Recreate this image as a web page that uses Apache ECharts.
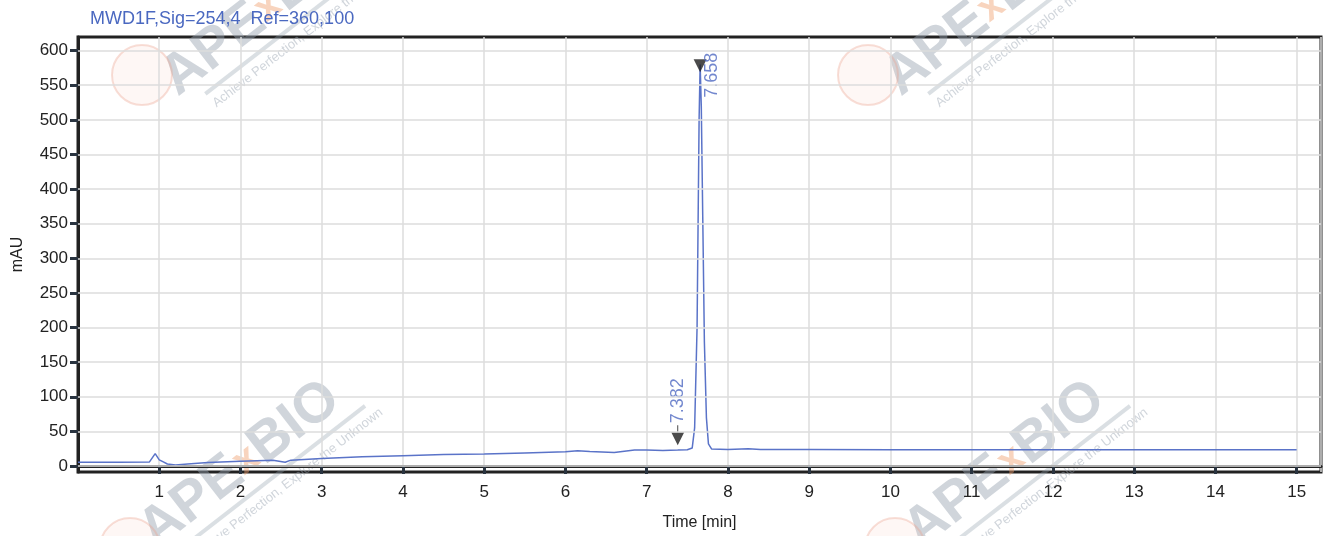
<!DOCTYPE html>
<html>
<head>
<meta charset="utf-8">
<script src="https://cdn.jsdelivr.net/npm/echarts@6/dist/echarts.min.js"></script>
<style>
html,body{margin:0;padding:0;background:#fff;}
#c{width:1330px;height:536px;}
</style>
</head>
<body>
<div id="c"></div>
<script>
// ---- data ----
const times = [0, 0.5, 0.88, 0.95, 1.0, 1.05, 1.1, 1.2, 1.35, 1.6, 2.0, 2.4, 2.55, 2.62, 3.0, 3.5, 4.0, 4.5, 5.0, 5.5, 6.0, 6.15, 6.3, 6.6, 6.85, 7.0, 7.2, 7.382, 7.5, 7.56, 7.59, 7.62, 7.645, 7.658, 7.672, 7.69, 7.71, 7.735, 7.76, 7.8, 8.0, 8.25, 8.4, 9, 10, 11, 12, 13, 14, 15];
const mAU   = [5.5, 5.5, 6, 18, 9, 6, 3, 1.5, 3, 5, 7, 8.5, 5.5, 8.5, 11, 13.5, 15, 16.5, 17.5, 19, 20.5, 22, 21, 19.5, 23, 23, 22.5, 23, 23.5, 26, 55, 200, 500, 580, 520, 360, 180, 70, 32, 24.5, 24, 25, 24, 24, 23.5, 23.5, 23.5, 23.5, 23.5, 23.5];
const peakTimes  = [7.382, 7.658];
const peakMarks  = [44.6, 578];
const peakLabels = ['7.382', '7.658'];
const yTicks = [0, 50, 100, 150, 200, 250, 300, 350, 400, 450, 500, 550, 600];
const titleText = 'MWD1F,Sig=254,4  Ref=360,100';

const FONT = 'Liberation Sans, Arial, sans-serif';
const lineColor = '#5a73c8';
const chart = echarts.init(document.getElementById('c'));

function wm(cx, cy) {
  return {
    type: 'group', x: cx, y: cy, rotation: 0.66, silent: true, z: 10,
    children: [
      {type: 'text', style: {
        text: '{a|APE}{b|x}{a|BIO}', x: 0, y: 0, align: 'center', verticalAlign: 'middle',
        rich: {
          a: {font: 'bold 56px ' + FONT, fill: 'rgba(150,162,175,0.45)'},
          b: {font: 'bold 40px ' + FONT, fill: 'rgba(240,160,110,0.45)'}
        }}},
      {type: 'line', shape: {x1: -95, y1: 30, x2: 135, y2: 30},
        style: {stroke: 'rgba(150,162,175,0.35)', lineWidth: 4}},
      {type: 'text', style: {text: 'Achieve Perfection, Explore the Unknown', x: 25, y: 44, align: 'center', verticalAlign: 'middle',
        font: '13px ' + FONT, fill: 'rgba(150,162,175,0.45)'}}
    ]
  };
}
function logo(cx, cy) {
  const kids = [{type: 'circle', shape: {cx: cx, cy: cy, r: 30},
    style: {fill: 'rgba(245,190,170,0.12)', stroke: 'rgba(235,160,140,0.35)', lineWidth: 2}}];
  return {type: 'group', silent: true, z: 0, children: kids};
}

const option = {
  animation: false,
  backgroundColor: '#fff',
  textStyle: {fontFamily: FONT},
  title: {
    text: titleText, left: 85, top: 5,
    textStyle: {fontFamily: FONT, fontSize: 18, fontWeight: 'normal', color: '#4a68c0'}
  },
  graphic: [
    wm(262, 12), wm(985, 12), wm(240, 465), wm(1005, 465),
    logo(142, 75), logo(868, 75), logo(130, 548), logo(895, 548)
  ],
  grid: {left: 78, right: 9, top: 37, bottom: 63, show: true, borderColor: '#222', borderWidth: 3, backgroundColor: 'transparent'},
  xAxis: {
    type: 'value', min: 0, max: 15.3, interval: 1,
    name: 'Time [min]', nameLocation: 'middle', nameGap: 43,
    nameTextStyle: {fontFamily: FONT, fontSize: 16, color: '#222'},
    axisLine: {show: true, lineStyle: {color: '#222', width: 3}},
    axisTick: {show: true, length: 8, lineStyle: {color: '#2a3440', width: 3}},
    axisLabel: {fontFamily: FONT, fontSize: 17, color: '#222', margin: 12, showMinLabel: false, showMaxLabel: false,
      formatter: v => (Math.abs(v - Math.round(v)) < 1e-6 && v > 0 && v <= 15) ? String(Math.round(v)) : ''},
    splitLine: {show: true, lineStyle: {color: '#dcdcdc', width: 1.5}}
  },
  yAxis: {
    type: 'value', min: -8.6, max: 619.6,
    name: 'mAU', nameLocation: 'middle', nameGap: 52, nameRotate: 90,
    nameTextStyle: {fontFamily: FONT, fontSize: 16, color: '#222'},
    axisLine: {show: true, lineStyle: {color: '#222', width: 3}},
    axisTick: {show: true, length: 8, lineStyle: {color: '#2a3440', width: 3}, customValues: yTicks},
    axisLabel: {fontFamily: FONT, fontSize: 17, color: '#222', margin: 10, customValues: yTicks},
    splitLine: {show: false}
  },
  series: [
    {
      type: 'line', data: [], z: 1, silent: true,
      markLine: {
        silent: true, symbol: 'none', animation: false,
        label: {show: false},
        lineStyle: {color: '#dcdcdc', width: 1.5, type: 'solid'},
        data: yTicks.map(v => ({yAxis: v}))
      }
    },
    {
      type: 'line', z: 3, showSymbol: false, smooth: false,
      data: times.map((t, i) => [t, mAU[i]]),
      lineStyle: {color: lineColor, width: 1.5},
      itemStyle: {color: lineColor}
    },
    {
      type: 'scatter', z: 4, silent: true,
      itemStyle: {color: '#1e1e1e'},
      data: [
        {value: [peakTimes[0], peakMarks[0]],
         symbol: 'path://M6,0 L7,0 L7,7 L13,7 L6.5,20 L0,7 L6,7 Z', symbolSize: [13, 20],
         label: {show: true, formatter: peakLabels[0], position: [6.5, -2], rotate: 90, align: 'left', verticalAlign: 'middle',
           fontFamily: FONT, fontSize: 18, color: '#4f69c2'}},
        {value: [peakTimes[1], peakMarks[1]],
         symbol: 'path://M0,0 L13,0 L6.5,13 Z', symbolSize: [13, 13],
         label: {show: true, formatter: peakLabels[1], position: [18.5, 38.5], rotate: 90, align: 'left', verticalAlign: 'middle',
           fontFamily: FONT, fontSize: 18, color: '#4f69c2'}}
      ]
    }
  ]
};
chart.setOption(option);
</script>
</body>
</html>
